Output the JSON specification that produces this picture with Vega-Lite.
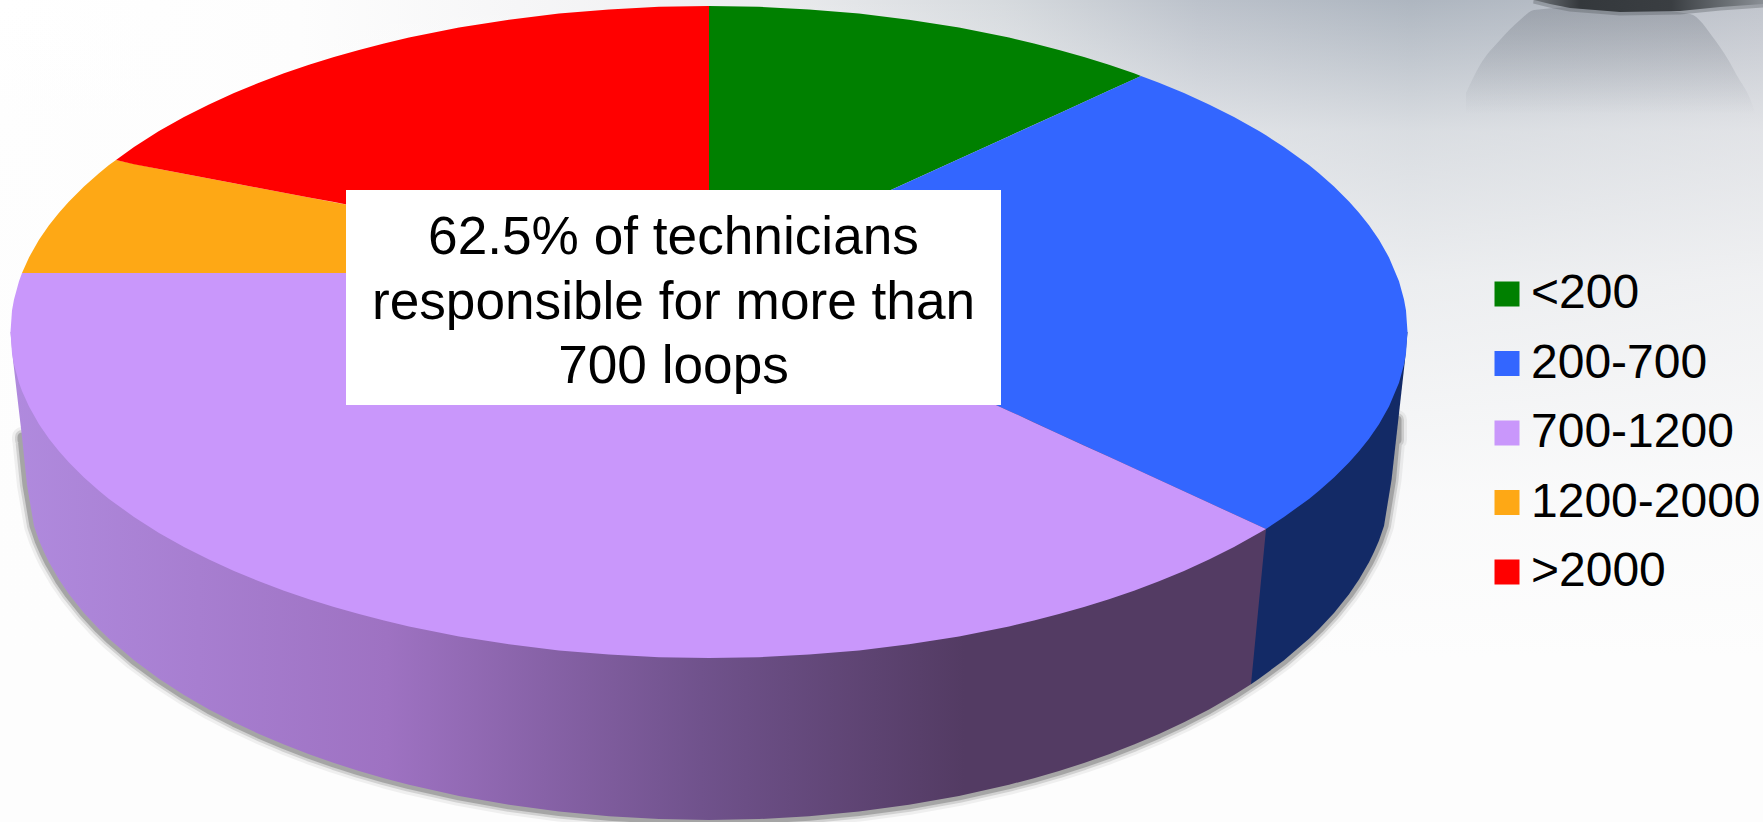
{
  "$schema": "https://vega.github.io/schema/vega-lite/v6.json",
  "width": 1763,
  "height": 822,
  "autosize": {"type": "none"},
  "padding": 0,
  "background": "#fdfdfd",
  "config": {"view": {"stroke": null}, "font": "Liberation Sans"},
  "datasets": {
    "backdrop": [{"x": 0, "x2": 1763, "y": 0, "y2": 822}],
    "orbShade": [
      {"x": 1466, "y": 93, "y2": 150}, {"x": 1480, "y": 65, "y2": 150}, {"x": 1500, "y": 40, "y2": 150},
      {"x": 1520, "y": 20, "y2": 150}, {"x": 1534, "y": 10, "y2": 150}, {"x": 1600, "y": 6, "y2": 150},
      {"x": 1690, "y": 14, "y2": 150}, {"x": 1715, "y": 40, "y2": 150}, {"x": 1735, "y": 72, "y2": 150},
      {"x": 1758, "y": 125, "y2": 150}, {"x": 1763, "y": 150, "y2": 150}
    ],
    "orbBase": [
      {"x": 1534, "y": 0, "y2": 0}, {"x": 1550, "y": 4, "y2": 0}, {"x": 1570, "y": 8, "y2": 0},
      {"x": 1620, "y": 12, "y2": 0}, {"x": 1680, "y": 11, "y2": 0}, {"x": 1720, "y": 7, "y2": 0},
      {"x": 1763, "y": 4, "y2": 0}
    ],
    "rimShadow": [
      {"x": 22, "y": 437, "y2": 440}, {"x": 27, "y": 485, "y2": 440}, {"x": 34, "y": 525.9, "y2": 440},
      {"x": 39, "y": 540.4, "y2": 440}, {"x": 44, "y": 552.1, "y2": 440}, {"x": 49, "y": 562.3, "y2": 440},
      {"x": 59, "y": 579.6, "y2": 440}, {"x": 69, "y": 594.2, "y2": 440}, {"x": 84, "y": 612.9, "y2": 440},
      {"x": 99, "y": 629.1, "y2": 440}, {"x": 109, "y": 638.8, "y2": 440}, {"x": 134, "y": 660.3, "y2": 440},
      {"x": 159, "y": 678.7, "y2": 440}, {"x": 184, "y": 694.9, "y2": 440}, {"x": 209, "y": 709.4, "y2": 440},
      {"x": 234, "y": 722.3, "y2": 440}, {"x": 259, "y": 734, "y2": 440}, {"x": 284, "y": 744.6, "y2": 440},
      {"x": 309, "y": 754.3, "y2": 440}, {"x": 334, "y": 763, "y2": 440}, {"x": 359, "y": 771, "y2": 440},
      {"x": 384, "y": 778.2, "y2": 440}, {"x": 409, "y": 784.7, "y2": 440}, {"x": 459, "y": 795.9, "y2": 440},
      {"x": 509, "y": 804.8, "y2": 440}, {"x": 559, "y": 811.5, "y2": 440}, {"x": 609, "y": 816.3, "y2": 440},
      {"x": 659, "y": 819.1, "y2": 440}, {"x": 709, "y": 820, "y2": 440}, {"x": 759, "y": 819.1, "y2": 440},
      {"x": 809, "y": 816.3, "y2": 440}, {"x": 859, "y": 811.5, "y2": 440}, {"x": 909, "y": 804.8, "y2": 440},
      {"x": 959, "y": 795.9, "y2": 440}, {"x": 1009, "y": 784.7, "y2": 440}, {"x": 1034, "y": 778.2, "y2": 440},
      {"x": 1059, "y": 771, "y2": 440}, {"x": 1084, "y": 763, "y2": 440}, {"x": 1109, "y": 754.3, "y2": 440},
      {"x": 1134, "y": 744.6, "y2": 440}, {"x": 1159, "y": 734, "y2": 440}, {"x": 1184, "y": 722.3, "y2": 440},
      {"x": 1209, "y": 709.4, "y2": 440}, {"x": 1234, "y": 694.9, "y2": 440}, {"x": 1259, "y": 678.7, "y2": 440},
      {"x": 1284, "y": 660.3, "y2": 440}, {"x": 1309, "y": 638.8, "y2": 440}, {"x": 1319, "y": 629.1, "y2": 440},
      {"x": 1334, "y": 612.9, "y2": 440}, {"x": 1349, "y": 594.2, "y2": 440}, {"x": 1359, "y": 579.6, "y2": 440},
      {"x": 1369, "y": 562.3, "y2": 440}, {"x": 1374, "y": 552.1, "y2": 440}, {"x": 1379, "y": 540.4, "y2": 440},
      {"x": 1384, "y": 525.9, "y2": 440}, {"x": 1391.5, "y": 480, "y2": 440}, {"x": 1397, "y": 420, "y2": 440}
    ],
    "blueWall": [
      {"x": 1251, "y": 684.2, "y2": 332}, {"x": 1259, "y": 678.7, "y2": 332}, {"x": 1284, "y": 660.3, "y2": 332},
      {"x": 1309, "y": 638.8, "y2": 332}, {"x": 1319, "y": 629.1, "y2": 332}, {"x": 1334, "y": 612.9, "y2": 332},
      {"x": 1349, "y": 594.2, "y2": 332}, {"x": 1359, "y": 579.6, "y2": 332}, {"x": 1369, "y": 562.3, "y2": 332},
      {"x": 1374, "y": 552.1, "y2": 332}, {"x": 1379, "y": 540.4, "y2": 332}, {"x": 1384, "y": 525.9, "y2": 332},
      {"x": 1391.5, "y": 480, "y2": 332}, {"x": 1405, "y": 360, "y2": 332}, {"x": 1407.5, "y": 332, "y2": 332}
    ],
    "purpleWall": [
      {"x": 10.5, "y": 332, "y2": 332}, {"x": 13, "y": 360, "y2": 332}, {"x": 22, "y": 437, "y2": 332},
      {"x": 27, "y": 485, "y2": 332}, {"x": 34, "y": 525.9, "y2": 332}, {"x": 39, "y": 540.4, "y2": 332},
      {"x": 44, "y": 552.1, "y2": 332}, {"x": 49, "y": 562.3, "y2": 332}, {"x": 59, "y": 579.6, "y2": 332},
      {"x": 69, "y": 594.2, "y2": 332}, {"x": 84, "y": 612.9, "y2": 332}, {"x": 99, "y": 629.1, "y2": 332},
      {"x": 109, "y": 638.8, "y2": 332}, {"x": 134, "y": 660.3, "y2": 332}, {"x": 159, "y": 678.7, "y2": 332},
      {"x": 184, "y": 694.9, "y2": 332}, {"x": 209, "y": 709.4, "y2": 332}, {"x": 234, "y": 722.3, "y2": 332},
      {"x": 259, "y": 734, "y2": 332}, {"x": 284, "y": 744.6, "y2": 332}, {"x": 309, "y": 754.3, "y2": 332},
      {"x": 334, "y": 763, "y2": 332}, {"x": 359, "y": 771, "y2": 332}, {"x": 384, "y": 778.2, "y2": 332},
      {"x": 409, "y": 784.7, "y2": 332}, {"x": 459, "y": 795.9, "y2": 332}, {"x": 509, "y": 804.8, "y2": 332},
      {"x": 559, "y": 811.5, "y2": 332}, {"x": 609, "y": 816.3, "y2": 332}, {"x": 659, "y": 819.1, "y2": 332},
      {"x": 709, "y": 820, "y2": 332}, {"x": 759, "y": 819.1, "y2": 332}, {"x": 809, "y": 816.3, "y2": 332},
      {"x": 859, "y": 811.5, "y2": 332}, {"x": 909, "y": 804.8, "y2": 332}, {"x": 959, "y": 795.9, "y2": 332},
      {"x": 1009, "y": 784.7, "y2": 332}, {"x": 1034, "y": 778.2, "y2": 332}, {"x": 1059, "y": 771, "y2": 332},
      {"x": 1084, "y": 763, "y2": 332}, {"x": 1109, "y": 754.3, "y2": 332}, {"x": 1134, "y": 744.6, "y2": 332},
      {"x": 1159, "y": 734, "y2": 332}, {"x": 1184, "y": 722.3, "y2": 332}, {"x": 1209, "y": 709.4, "y2": 332},
      {"x": 1234, "y": 694.9, "y2": 332}, {"x": 1251, "y": 684.2, "y2": 332}, {"x": 1266, "y": 529, "y2": 332}
    ],
    "slices": [
      {"band": "<200", "x": 709, "y": 273, "y2": 6}, {"band": "<200", "x": 759, "y": 250.2, "y2": 6.8},
      {"band": "<200", "x": 809, "y": 227.4, "y2": 9.4}, {"band": "<200", "x": 859, "y": 204.6, "y2": 13.6},
      {"band": "<200", "x": 909, "y": 181.8, "y2": 19.7}, {"band": "<200", "x": 959, "y": 159, "y2": 27.6},
      {"band": "<200", "x": 1009, "y": 136.2, "y2": 37.6}, {"band": "<200", "x": 1034, "y": 124.8, "y2": 43.4},
      {"band": "<200", "x": 1059, "y": 113.4, "y2": 49.9}, {"band": "<200", "x": 1084, "y": 102, "y2": 57},
      {"band": "<200", "x": 1109, "y": 90.6, "y2": 64.7}, {"band": "<200", "x": 1134, "y": 79.2, "y2": 73.3},
      {"band": "<200", "x": 1141, "y": 76, "y2": 76},

      {"band": "200-700", "x": 709, "y": 273, "y2": 273}, {"band": "200-700", "x": 759, "y": 296, "y2": 250.2},
      {"band": "200-700", "x": 809, "y": 319, "y2": 227.4}, {"band": "200-700", "x": 859, "y": 341.9, "y2": 204.6},
      {"band": "200-700", "x": 909, "y": 364.9, "y2": 181.8}, {"band": "200-700", "x": 959, "y": 387.9, "y2": 159},
      {"band": "200-700", "x": 1009, "y": 410.9, "y2": 136.2}, {"band": "200-700", "x": 1059, "y": 433.9, "y2": 113.4},
      {"band": "200-700", "x": 1109, "y": 456.8, "y2": 90.6}, {"band": "200-700", "x": 1141, "y": 471.5, "y2": 76},
      {"band": "200-700", "x": 1159, "y": 479.8, "y2": 82.7}, {"band": "200-700", "x": 1184, "y": 491.3, "y2": 93},
      {"band": "200-700", "x": 1209, "y": 502.8, "y2": 104.4}, {"band": "200-700", "x": 1234, "y": 514.3, "y2": 117},
      {"band": "200-700", "x": 1259, "y": 525.8, "y2": 131}, {"band": "200-700", "x": 1266, "y": 529, "y2": 135.3},
      {"band": "200-700", "x": 1284, "y": 517, "y2": 147}, {"band": "200-700", "x": 1309, "y": 498.9, "y2": 165.1},
      {"band": "200-700", "x": 1319, "y": 490.8, "y2": 173.2}, {"band": "200-700", "x": 1334, "y": 477.6, "y2": 186.4},
      {"band": "200-700", "x": 1349, "y": 462.6, "y2": 201.4}, {"band": "200-700", "x": 1359, "y": 451.3, "y2": 212.7},
      {"band": "200-700", "x": 1369, "y": 438.7, "y2": 225.3}, {"band": "200-700", "x": 1379, "y": 424.2, "y2": 239.8},
      {"band": "200-700", "x": 1389, "y": 406.6, "y2": 257.4}, {"band": "200-700", "x": 1399, "y": 382.7, "y2": 281.3},
      {"band": "200-700", "x": 1404, "y": 364.6, "y2": 299.4}, {"band": "200-700", "x": 1406, "y": 353.4, "y2": 310.6},
      {"band": "200-700", "x": 1407.5, "y": 332, "y2": 332},

      {"band": "700-1200", "x": 10.5, "y": 332, "y2": 332}, {"band": "700-1200", "x": 12, "y": 353.4, "y2": 310.6},
      {"band": "700-1200", "x": 14, "y": 364.6, "y2": 299.4}, {"band": "700-1200", "x": 19, "y": 382.7, "y2": 281.3},
      {"band": "700-1200", "x": 22, "y": 391, "y2": 273}, {"band": "700-1200", "x": 29, "y": 406.6, "y2": 273},
      {"band": "700-1200", "x": 39, "y": 424.2, "y2": 273}, {"band": "700-1200", "x": 49, "y": 438.7, "y2": 273},
      {"band": "700-1200", "x": 59, "y": 451.3, "y2": 273}, {"band": "700-1200", "x": 69, "y": 462.6, "y2": 273},
      {"band": "700-1200", "x": 84, "y": 477.6, "y2": 273}, {"band": "700-1200", "x": 99, "y": 490.8, "y2": 273},
      {"band": "700-1200", "x": 109, "y": 498.9, "y2": 273}, {"band": "700-1200", "x": 134, "y": 517, "y2": 273},
      {"band": "700-1200", "x": 159, "y": 533, "y2": 273}, {"band": "700-1200", "x": 184, "y": 547, "y2": 273},
      {"band": "700-1200", "x": 209, "y": 559.6, "y2": 273}, {"band": "700-1200", "x": 234, "y": 571, "y2": 273},
      {"band": "700-1200", "x": 259, "y": 581.3, "y2": 273}, {"band": "700-1200", "x": 284, "y": 590.7, "y2": 273},
      {"band": "700-1200", "x": 309, "y": 599.3, "y2": 273}, {"band": "700-1200", "x": 334, "y": 607, "y2": 273},
      {"band": "700-1200", "x": 359, "y": 614.1, "y2": 273}, {"band": "700-1200", "x": 384, "y": 620.6, "y2": 273},
      {"band": "700-1200", "x": 409, "y": 626.4, "y2": 273}, {"band": "700-1200", "x": 459, "y": 636.4, "y2": 273},
      {"band": "700-1200", "x": 509, "y": 644.3, "y2": 273}, {"band": "700-1200", "x": 559, "y": 650.4, "y2": 273},
      {"band": "700-1200", "x": 609, "y": 654.6, "y2": 273}, {"band": "700-1200", "x": 659, "y": 657.2, "y2": 273},
      {"band": "700-1200", "x": 709, "y": 658, "y2": 273}, {"band": "700-1200", "x": 759, "y": 657.2, "y2": 296},
      {"band": "700-1200", "x": 809, "y": 654.6, "y2": 319}, {"band": "700-1200", "x": 859, "y": 650.4, "y2": 341.9},
      {"band": "700-1200", "x": 909, "y": 644.3, "y2": 364.9}, {"band": "700-1200", "x": 959, "y": 636.4, "y2": 387.9},
      {"band": "700-1200", "x": 1009, "y": 626.4, "y2": 410.9}, {"band": "700-1200", "x": 1034, "y": 620.6, "y2": 422.4},
      {"band": "700-1200", "x": 1059, "y": 614.1, "y2": 433.9}, {"band": "700-1200", "x": 1084, "y": 607, "y2": 445.4},
      {"band": "700-1200", "x": 1109, "y": 599.3, "y2": 456.8}, {"band": "700-1200", "x": 1134, "y": 590.7, "y2": 468.3},
      {"band": "700-1200", "x": 1159, "y": 581.3, "y2": 479.8}, {"band": "700-1200", "x": 1184, "y": 571, "y2": 491.3},
      {"band": "700-1200", "x": 1209, "y": 559.6, "y2": 502.8}, {"band": "700-1200", "x": 1234, "y": 547, "y2": 514.3},
      {"band": "700-1200", "x": 1259, "y": 533, "y2": 525.8}, {"band": "700-1200", "x": 1266, "y": 529, "y2": 529},

      {"band": "1200-2000", "x": 22, "y": 273, "y2": 273}, {"band": "1200-2000", "x": 29, "y": 273, "y2": 257.4},
      {"band": "1200-2000", "x": 39, "y": 273, "y2": 239.8}, {"band": "1200-2000", "x": 49, "y": 273, "y2": 225.3},
      {"band": "1200-2000", "x": 59, "y": 273, "y2": 212.7}, {"band": "1200-2000", "x": 69, "y": 273, "y2": 201.4},
      {"band": "1200-2000", "x": 84, "y": 273, "y2": 186.4}, {"band": "1200-2000", "x": 99, "y": 273, "y2": 173.2},
      {"band": "1200-2000", "x": 109, "y": 273, "y2": 165.1}, {"band": "1200-2000", "x": 116, "y": 273, "y2": 160},
      {"band": "1200-2000", "x": 159, "y": 273, "y2": 169}, {"band": "1200-2000", "x": 209, "y": 273, "y2": 178.5},
      {"band": "1200-2000", "x": 259, "y": 273, "y2": 188}, {"band": "1200-2000", "x": 309, "y": 273, "y2": 197.4},
      {"band": "1200-2000", "x": 359, "y": 273, "y2": 206.9}, {"band": "1200-2000", "x": 409, "y": 273, "y2": 216.3},
      {"band": "1200-2000", "x": 459, "y": 273, "y2": 225.8}, {"band": "1200-2000", "x": 509, "y": 273, "y2": 235.2},
      {"band": "1200-2000", "x": 559, "y": 273, "y2": 244.7}, {"band": "1200-2000", "x": 609, "y": 273, "y2": 254.1},
      {"band": "1200-2000", "x": 659, "y": 273, "y2": 263.6}, {"band": "1200-2000", "x": 709, "y": 273, "y2": 273},

      {"band": ">2000", "x": 116, "y": 160, "y2": 160}, {"band": ">2000", "x": 134, "y": 164.3, "y2": 147},
      {"band": ">2000", "x": 159, "y": 169, "y2": 131}, {"band": ">2000", "x": 184, "y": 173.8, "y2": 117},
      {"band": ">2000", "x": 209, "y": 178.5, "y2": 104.4}, {"band": ">2000", "x": 234, "y": 183.2, "y2": 93},
      {"band": ">2000", "x": 259, "y": 188, "y2": 82.7}, {"band": ">2000", "x": 284, "y": 192.7, "y2": 73.3},
      {"band": ">2000", "x": 309, "y": 197.4, "y2": 64.7}, {"band": ">2000", "x": 334, "y": 202.1, "y2": 57},
      {"band": ">2000", "x": 359, "y": 206.9, "y2": 49.9}, {"band": ">2000", "x": 384, "y": 211.6, "y2": 43.4},
      {"band": ">2000", "x": 409, "y": 216.3, "y2": 37.6}, {"band": ">2000", "x": 459, "y": 225.8, "y2": 27.6},
      {"band": ">2000", "x": 509, "y": 235.2, "y2": 19.7}, {"band": ">2000", "x": 559, "y": 244.7, "y2": 13.6},
      {"band": ">2000", "x": 609, "y": 254.1, "y2": 9.4}, {"band": ">2000", "x": 659, "y": 263.6, "y2": 6.8},
      {"band": ">2000", "x": 709, "y": 273, "y2": 6}
    ],
    "callout": [{"x": 346, "x2": 1001, "y": 190, "y2": 405, "tx": 673.5, "ty": 254, "note": "62.5% of technicians\nresponsible for more than\n700 loops"}]
  },
  "encoding": {
    "x": {"field": "x", "type": "quantitative", "axis": null, "scale": {"domain": [0, 1763], "nice": false, "zero": false}},
    "y": {"field": "y", "type": "quantitative", "axis": null, "stack": null, "scale": {"domain": [0, 822], "reverse": true, "nice": false, "zero": false}},
    "y2": {"field": "y2"}
  },
  "layer": [
    {
      "data": {"name": "backdrop"},
      "mark": {"type": "rect", "color": {"gradient": "linear", "x1": 0, "y1": 0, "x2": 1, "y2": 0, "stops": [
        {"offset": 0, "color": "#ffffff"}, {"offset": 0.17, "color": "#fdfdfd"}, {"offset": 0.4, "color": "#f0f0f2"},
        {"offset": 0.57, "color": "#d6dade"}, {"offset": 0.68, "color": "#bcc2cb"}, {"offset": 0.8, "color": "#aeb6c0"},
        {"offset": 1, "color": "#c0c4cc"}]}},
      "encoding": {"x2": {"field": "x2"}}
    },
    {
      "data": {"name": "backdrop"},
      "mark": {"type": "rect", "color": {"gradient": "linear", "x1": 0, "y1": 0, "x2": 0, "y2": 1, "stops": [
        {"offset": 0, "color": "rgba(253,253,253,0)"}, {"offset": 0.16, "color": "rgba(253,253,253,0.55)"},
        {"offset": 0.34, "color": "rgba(253,253,253,0.78)"}, {"offset": 0.6, "color": "rgba(253,253,253,0.95)"},
        {"offset": 0.8, "color": "rgba(253,253,253,1)"}, {"offset": 1, "color": "rgba(253,253,253,1)"}]}},
      "encoding": {"x2": {"field": "x2"}}
    },
    {
      "data": {"name": "orbShade"},
      "mark": {"type": "area", "interpolate": "monotone", "color": {"gradient": "linear", "x1": 0, "y1": 0, "x2": 0, "y2": 1, "stops": [
        {"offset": 0, "color": "rgba(120,126,136,0.42)"}, {"offset": 0.75, "color": "rgba(120,126,136,0)"}, {"offset": 1, "color": "rgba(120,126,136,0)"}]}}
    },
    {"data": {"name": "orbBase"}, "mark": {"type": "area", "color": "#555a5f", "stroke": "#555a5f", "strokeWidth": 7, "opacity": 0.35}},
    {
      "data": {"name": "orbBase"},
      "mark": {"type": "area", "color": {"gradient": "linear", "x1": 0, "y1": 0, "x2": 1, "y2": 0, "stops": [
        {"offset": 0, "color": "#70757a"}, {"offset": 0.2, "color": "#34383c"}, {"offset": 0.6, "color": "#3a3e42"}, {"offset": 1, "color": "#8a8f95"}]}}
    },
    {"data": {"name": "rimShadow"}, "mark": {"type": "area", "color": "#7a7a7a", "stroke": "#7a7a7a", "strokeWidth": 20, "opacity": 0.1, "strokeJoin": "round"}},
    {"data": {"name": "rimShadow"}, "mark": {"type": "area", "color": "#7a7a7a", "stroke": "#7a7a7a", "strokeWidth": 14, "opacity": 0.25, "strokeJoin": "round"}},
    {"data": {"name": "rimShadow"}, "mark": {"type": "area", "color": "#7a7a7a", "stroke": "#7a7a7a", "strokeWidth": 9, "opacity": 0.5, "strokeJoin": "round"}},
    {"data": {"name": "blueWall"}, "mark": {"type": "area", "color": "#132a66"}},
    {
      "data": {"name": "purpleWall"},
      "mark": {"type": "area", "color": {"gradient": "linear", "x1": 0, "y1": 0, "x2": 1, "y2": 0, "stops": [
        {"offset": 0, "color": "#b08ade"}, {"offset": 0.3, "color": "#9e72c2"}, {"offset": 0.55, "color": "#70528c"},
        {"offset": 0.76, "color": "#533b63"}, {"offset": 1, "color": "#533b63"}]}}
    },
    {
      "data": {"name": "slices"},
      "mark": {"type": "area"},
      "encoding": {
        "color": {
          "field": "band", "type": "nominal",
          "scale": {"domain": ["<200", "200-700", "700-1200", "1200-2000", ">2000"], "range": ["#008000", "#3366ff", "#c997fb", "#fea815", "#ff0000"]},
          "legend": {
            "title": null, "orient": "none", "legendX": 1483, "legendY": 270,
            "symbolType": "square", "symbolSize": 625, "symbolStrokeWidth": 0, "symbolOpacity": 1,
            "labelFont": "Liberation Sans", "labelFontSize": 48, "labelColor": "#000000", "labelOffset": 0,
            "rowPadding": 21.5, "labelLimit": 400
          }
        }
      }
    },
    {
      "data": {"name": "callout"},
      "mark": {"type": "rect", "color": "#ffffff"},
      "encoding": {"x2": {"field": "x2"}}
    },
    {
      "data": {"name": "callout"},
      "mark": {"type": "text", "font": "Liberation Sans", "fontSize": 53.2, "color": "#000000", "align": "center", "baseline": "alphabetic", "lineBreak": "\n", "lineHeight": 64.5},
      "encoding": {
        "x": {"field": "tx", "type": "quantitative"},
        "y": {"field": "ty", "type": "quantitative"},
        "y2": null,
        "text": {"field": "note", "type": "nominal"}
      }
    }
  ]
}
